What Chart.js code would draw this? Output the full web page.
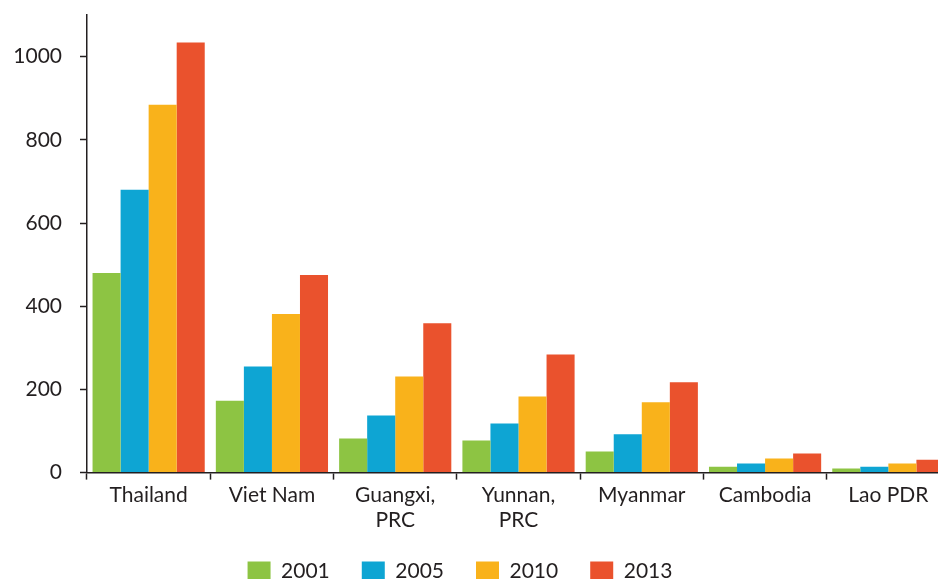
<!DOCTYPE html>
<html>
<head>
<meta charset="utf-8">
<script src="https://cdn.jsdelivr.net/npm/chart.js@4"></script>
<style>
  body { margin: 0; overflow: hidden; background: #fff; }
  #wrap { width: 950px; height: 592px; position: relative; }
</style>
</head>
<body>
<div id="wrap"><canvas id="chart"></canvas></div>
<script>
// данные
const categories = ['Thailand', 'Viet Nam', ['Guangxi,', 'PRC'], ['Yunnan,', 'PRC'], 'Myanmar', 'Cambodia', 'Lao PDR'];
const seriesLabels = ['2001', '2005', '2010', '2013'];
const values2001 = [480, 173, 82, 77, 51, 14, 10];
const values2005 = [680, 255, 137, 118, 92, 22, 14];
const values2010 = [884, 381, 231, 183, 169, 34, 22];
const values2013 = [1034, 475, 359, 284, 217, 46, 31];
const yTicks = [0, 200, 400, 600, 800, 1000];

const colors = ['#8dc443', '#0ea5d3', '#f9b21b', '#ea522d'];
const allValues = [values2001, values2005, values2010, values2013];
const textColor = '#231f20';

const datasets = seriesLabels.map((label, i) => ({
    label: label,
    data: allValues[i],
    backgroundColor: colors[i],
    borderWidth: 0,
    categoryPercentage: 0.91,
    barPercentage: 1.0
}));

// сдвиг легенды чуть левее центра, как в оригинале
const legendShift = {
    id: 'legendShift',
    afterLayout(chart) {
        chart.legend.left -= 15;
        chart.legend.right -= 15;
    }
};

const ctx = document.getElementById('chart').getContext('2d');
new Chart(ctx, {
    type: 'bar',
    data: { labels: categories, datasets: datasets },
    plugins: [legendShift],
    options: {
        responsive: true,
        maintainAspectRatio: false,
        animation: false,
        layout: { padding: { top: 15, left: 0, right: 0, bottom: 0 } },
        scales: {
            x: {
                afterFit: axis => { axis.height = axis.height - 7; },
                grid: {
                    drawOnChartArea: false,
                    tickLength: 7,
                    tickColor: textColor,
                    tickWidth: 1.5
                },
                border: { color: textColor, width: 1.5 },
                ticks: {
                    color: textColor,
                    font: { family: 'Lato', size: 21 },
                    maxRotation: 0,
                    autoSkip: false,
                    padding: 3
                }
            },
            y: {
                min: 0,
                max: 1100,
                afterBuildTicks: axis => {
                    axis.ticks = yTicks.map(v => ({ value: v }));
                },
                afterFit: axis => {
                    axis.width = 87;
                    axis.paddingTop = 0;
                    axis.paddingBottom = 0;
                },
                grid: {
                    drawOnChartArea: false,
                    tickLength: 7,
                    tickColor: textColor,
                    tickWidth: 1.5
                },
                border: { color: textColor, width: 1.5 },
                ticks: {
                    color: textColor,
                    font: { family: 'Lato', size: 21 },
                    padding: 18,
                    callback: v => String(v)
                }
            }
        },
        plugins: {
            legend: {
                position: 'bottom',
                labels: {
                    color: textColor,
                    font: { family: 'Lato', size: 21 },
                    boxWidth: 23,
                    boxHeight: 20,
                    padding: 32
                }
            },
            tooltip: { enabled: false }
        }
    }
});
</script>
</body>
</html>
